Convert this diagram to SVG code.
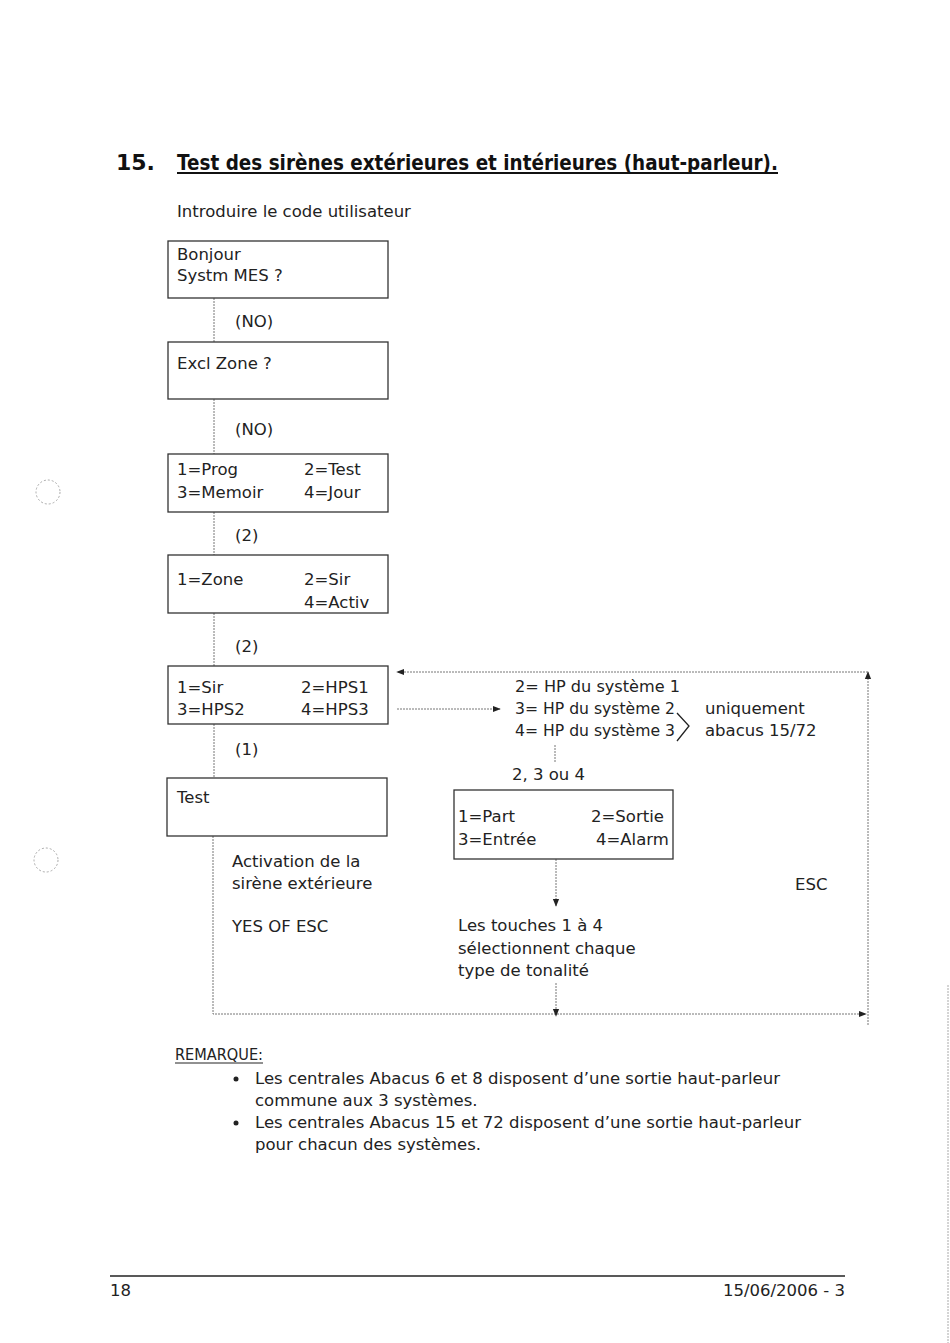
<svg xmlns="http://www.w3.org/2000/svg" width="950" height="1343" viewBox="0 0 950 1343">
<style>
text{font-family:"DejaVu Sans","Liberation Sans",sans-serif;font-size:16.5px;fill:#222}
.box{fill:#fff;stroke:#333;stroke-width:1.3}
.dot{fill:none;stroke:#777;stroke-width:1;stroke-dasharray:2 1}
.title{font-size:22px;font-weight:bold;fill:#111}
</style>
<defs>
<marker id="ah" viewBox="0 0 10 10" refX="9" refY="5" markerWidth="8" markerHeight="8" markerUnits="userSpaceOnUse" orient="auto"><path d="M0,1 L10,5 L0,9 z" fill="#222"/></marker>
</defs>
<rect width="950" height="1343" fill="#fff"/>
<text class="title" x="116" y="170">15.</text>
<text class="title" x="177" y="170" textLength="601" lengthAdjust="spacingAndGlyphs">Test des sirènes extérieures et intérieures (haut-parleur).</text>
<line x1="177" y1="173" x2="778" y2="173" stroke="#111" stroke-width="2"/>
<text x="177" y="217">Introduire le code utilisateur</text>

<g id="connectors">
<line class="dot" x1="214" y1="298" x2="214" y2="342"/>
<line class="dot" x1="214" y1="399" x2="214" y2="454"/>
<line class="dot" x1="214" y1="512" x2="214" y2="555"/>
<line class="dot" x1="214" y1="613" x2="214" y2="666"/>
<line class="dot" x1="214" y1="724" x2="214" y2="778"/>
<polyline class="dot" points="213,836 213,1014 866,1014" marker-end="url(#ah)"/>
<line class="dot" x1="868" y1="1025" x2="868" y2="672" marker-end="url(#ah)"/>
<line class="dot" x1="868" y1="672" x2="397" y2="672" marker-end="url(#ah)"/>
<line class="dot" x1="397" y1="709" x2="500" y2="709" marker-end="url(#ah)"/>
<line class="dot" x1="555" y1="745" x2="555" y2="763"/>
<line class="dot" x1="556" y1="859" x2="556" y2="906" marker-end="url(#ah)"/>
<line class="dot" x1="556" y1="983" x2="556" y2="1016" marker-end="url(#ah)"/>
<text x="235" y="327">(NO)</text>
<text x="235" y="435">(NO)</text>
<text x="235" y="541">(2)</text>
<text x="235" y="652">(2)</text>
<text x="235" y="755">(1)</text>
</g>

<g id="n1"><rect class="box" x="168" y="241" width="220" height="57"/><text x="177" y="260">Bonjour</text><text x="177" y="281">Systm MES ?</text></g>
<g id="n2"><rect class="box" x="168" y="342" width="220" height="57"/><text x="177" y="369">Excl Zone ?</text></g>
<g id="n3"><rect class="box" x="168" y="454" width="220" height="58"/><text x="177" y="475">1=Prog</text><text x="304" y="475">2=Test</text><text x="177" y="498">3=Memoir</text><text x="304" y="498">4=Jour</text></g>
<g id="n4"><rect class="box" x="168" y="555" width="220" height="58"/><text x="177" y="585">1=Zone</text><text x="304" y="585">2=Sir</text><text x="304" y="608">4=Activ</text></g>
<g id="n5"><rect class="box" x="168" y="666" width="220" height="58"/><text x="177" y="693">1=Sir</text><text x="301" y="693">2=HPS1</text><text x="177" y="715">3=HPS2</text><text x="301" y="715">4=HPS3</text></g>
<g id="n6"><rect class="box" x="167" y="778" width="220" height="58"/><text x="177" y="803">Test</text></g>
<g id="n6b"><text x="232" y="867">Activation de la</text><text x="232" y="889">sirène extérieure</text><text x="232" y="932">YES OF ESC</text></g>
<g id="n7"><text x="515" y="692" textLength="165" lengthAdjust="spacingAndGlyphs">2= HP du système 1</text><text x="515" y="714" textLength="160" lengthAdjust="spacingAndGlyphs">3= HP du système 2</text><text x="515" y="736" textLength="160" lengthAdjust="spacingAndGlyphs">4= HP du système 3</text>
<polyline points="677,713 689,726 677,741" fill="none" stroke="#222" stroke-width="1.3"/>
<text x="705" y="714">uniquement</text><text x="705" y="736">abacus 15/72</text>
<text x="512" y="780">2, 3 ou 4</text></g>
<g id="n8"><rect class="box" x="454" y="790" width="219" height="69"/><text x="458" y="822">1=Part</text><text x="591" y="822">2=Sortie</text><text x="458" y="845">3=Entrée</text><text x="596" y="845">4=Alarm</text></g>
<g id="n9"><text x="458" y="931">Les touches 1 à 4</text><text x="458" y="954">sélectionnent chaque</text><text x="458" y="976">type de tonalité</text></g>
<g id="n10"><text x="795" y="890">ESC</text></g>

<g id="remark">
<text x="175" y="1060" textLength="88" lengthAdjust="spacingAndGlyphs">REMARQUE:</text>
<line x1="175" y1="1063" x2="263" y2="1063" stroke="#222" stroke-width="1"/>
<circle cx="236" cy="1079" r="2.5" fill="#222"/>
<text x="255" y="1084">Les centrales Abacus 6 et 8 disposent d’une sortie haut-parleur</text>
<text x="255" y="1106">commune aux 3 systèmes.</text>
<circle cx="236" cy="1123" r="2.5" fill="#222"/>
<text x="255" y="1128">Les centrales Abacus 15 et 72 disposent d’une sortie haut-parleur</text>
<text x="255" y="1150">pour chacun des systèmes.</text>
</g>

<line x1="110" y1="1276" x2="845" y2="1276" stroke="#222" stroke-width="1.3"/>
<text x="110" y="1296">18</text>
<text x="845" y="1296" text-anchor="end">15/06/2006 - 3</text>

<circle cx="48" cy="492" r="12" fill="none" stroke="#aaa" stroke-width="1" stroke-dasharray="2 2"/>
<circle cx="46" cy="860" r="12" fill="none" stroke="#aaa" stroke-width="1" stroke-dasharray="2 2"/>
<line x1="948" y1="985" x2="948" y2="1343" stroke="#aaa" stroke-width="1" stroke-dasharray="2 1"/>
</svg>
